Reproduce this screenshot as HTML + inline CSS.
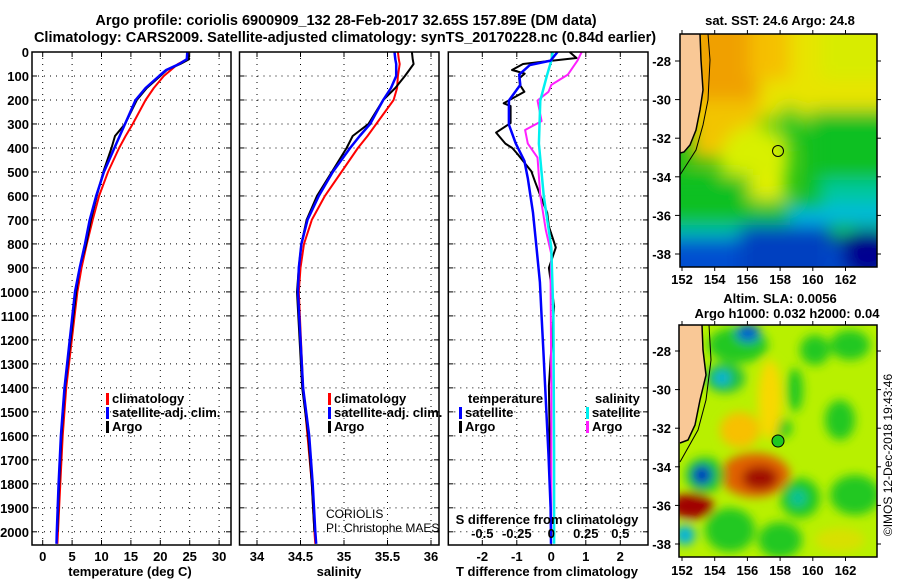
<!DOCTYPE html>
<html><head><meta charset="utf-8">
<style>
html,body{margin:0;padding:0;background:#fff;}
body{width:900px;height:580px;overflow:hidden;font-family:"Liberation Sans",sans-serif;}
svg text{font-family:"Liberation Sans",sans-serif;font-weight:bold;}
</style></head>
<body>
<svg id="chart" width="900" height="580" viewBox="0 0 900 580" xmlns="http://www.w3.org/2000/svg">
<defs>
<filter id="blur" filterUnits="userSpaceOnUse" x="600" y="0" width="300" height="300"><feGaussianBlur stdDeviation="9"/></filter>
<filter id="blur2" filterUnits="userSpaceOnUse" x="600" y="300" width="300" height="280"><feGaussianBlur stdDeviation="5"/></filter>
<clipPath id="clipMap1"><rect x="680" y="34" width="197" height="233"/></clipPath>
<clipPath id="clipMap2"><rect x="679" y="325" width="198" height="232"/></clipPath>
</defs>
<text x="346" y="25" font-size="14.5" text-anchor="middle">Argo profile: coriolis 6900909_132 28-Feb-2017 32.65S 157.89E (DM data)</text>
<text x="345" y="42" font-size="14.5" text-anchor="middle">Climatology: CARS2009. Satellite-adjusted climatology: synTS_20170228.nc (0.84d earlier)</text>

<g id="map1">
<text x="780" y="25" font-size="13" text-anchor="middle">sat. SST: 24.6 Argo: 24.8</text>
<g clip-path="url(#clipMap1)">
<rect x="680" y="34" width="197" height="233" fill="#18c018"/>
<g filter="url(#blur)">
<rect x="640" y="0" width="260" height="120" fill="#e8e400"/>
<rect x="690" y="0" width="70" height="110" fill="#f0a000"/>
<rect x="750" y="20" width="40" height="60" fill="#f5c000"/>
<rect x="820" y="20" width="80" height="60" fill="#d8ec00"/>
<rect x="690" y="100" width="70" height="60" fill="#f2c400"/>
<ellipse cx="755" cy="160" rx="35" ry="35" fill="#d8f000"/>
<ellipse cx="758" cy="190" rx="30" ry="15" fill="#e4f000"/>
<ellipse cx="790" cy="125" rx="12" ry="20" fill="#20c820"/>
<rect x="810" y="110" width="90" height="80" fill="#10c020"/>
<rect x="640" y="175" width="110" height="65" fill="#10c020"/>
<rect x="750" y="200" width="60" height="30" fill="#10c030"/>
<rect x="820" y="180" width="80" height="25" fill="#00c8a0"/>
<rect x="790" y="205" width="110" height="22" fill="#00b8e0"/>
<rect x="640" y="225" width="100" height="25" fill="#00c0b0"/>
<rect x="640" y="238" width="260" height="60" fill="#0050d0"/>
<rect x="740" y="225" width="90" height="60" fill="#0040c0"/>
<ellipse cx="868" cy="255" rx="28" ry="25" fill="#000090"/>
</g>
<path d="M680,34 L700,34 L701,60 L703,90 L700,110 L696,130 L690,145 L684,152 L680,153 Z" fill="#f9c896"/>
<path d="M708,34 L710,60 L708,100 L703,125 L696,150 L680,175" fill="none" stroke="#000" stroke-width="1"/>
<path d="M700,34 L701,60 L703,90 L700,110 L696,130 L690,145 L684,152 L680,153" fill="none" stroke="#000" stroke-width="1.5"/>
</g>
<rect x="680" y="34" width="197" height="233" fill="none" stroke="#000" stroke-width="1.5"/>
<circle cx="778" cy="151" r="5.5" fill="none" stroke="#000" stroke-width="1"/>
<g id="map1ticks"></g>
</g>

<g id="map2">
<text x="780" y="303" font-size="13" text-anchor="middle">Altim. SLA: 0.0056</text>
<text x="787" y="318" font-size="13" text-anchor="middle">Argo h1000: 0.032 h2000: 0.04</text>
<g clip-path="url(#clipMap2)">
<rect x="679" y="325" width="198" height="232" fill="#b8f000"/>
<g filter="url(#blur2)">
<ellipse cx="738" cy="345" rx="30" ry="18" fill="#20c820"/>
<ellipse cx="748" cy="333" rx="12" ry="9" fill="#0060d0"/>
<ellipse cx="725" cy="378" rx="20" ry="15" fill="#20c040"/>
<ellipse cx="722" cy="378" rx="8" ry="7" fill="#00b0e0"/>
<ellipse cx="815" cy="350" rx="15" ry="15" fill="#20c820"/>
<ellipse cx="850" cy="345" rx="20" ry="15" fill="#20c820"/>
<ellipse cx="795" cy="390" rx="8" ry="22" fill="#20c820"/>
<ellipse cx="780" cy="428" rx="12" ry="10" fill="#20c820"/>
<ellipse cx="840" cy="420" rx="15" ry="20" fill="#20c820"/>
<ellipse cx="740" cy="430" rx="20" ry="18" fill="#f8c000"/>
<ellipse cx="770" cy="400" rx="12" ry="40" fill="#f8d800"/>
<ellipse cx="755" cy="475" rx="35" ry="22" fill="#e06000"/>
<ellipse cx="760" cy="478" rx="18" ry="12" fill="#a01000"/>
<ellipse cx="705" cy="475" rx="20" ry="18" fill="#20c820"/>
<ellipse cx="702" cy="475" rx="10" ry="10" fill="#0030c0"/>
<ellipse cx="692" cy="506" rx="22" ry="13" fill="#a00000"/>
<ellipse cx="800" cy="498" rx="20" ry="20" fill="#20c820"/>
<ellipse cx="798" cy="498" rx="8" ry="8" fill="#00c0a0"/>
<ellipse cx="855" cy="495" rx="25" ry="20" fill="#20c820"/>
<ellipse cx="730" cy="530" rx="25" ry="22" fill="#20c820"/>
<ellipse cx="780" cy="540" rx="22" ry="18" fill="#20c820"/>
<ellipse cx="685" cy="535" rx="10" ry="10" fill="#00b0e0"/>
<ellipse cx="840" cy="540" rx="25" ry="12" fill="#d8e000"/>
</g>
<path d="M679,325 L702,325 L703,350 L706,375 L700,400 L695,425 L688,440 L680,443 L679,443 Z" fill="#f9c896"/>
<path d="M709,325 L711,360 L706,400 L698,430 L680,462" fill="none" stroke="#000" stroke-width="1"/>
<path d="M702,325 L703,350 L706,375 L700,400 L695,425 L688,440 L680,443" fill="none" stroke="#000" stroke-width="1.5"/>
</g>
<rect x="679" y="325" width="198" height="232" fill="none" stroke="#000" stroke-width="1.5"/>
<circle cx="778" cy="441" r="6" fill="#20c820" stroke="#000" stroke-width="1"/>
<g id="map2ticks"></g>
</g>
<text x="0" y="0" font-size="12" style="font-weight:normal" text-anchor="middle" transform="translate(892,455) rotate(-90)">©IMOS 12-Dec-2018 19:43:46</text>
<g id="plots"></g>
</svg>
<script>
// ===== Data =====
const depthTicks = [0,100,200,300,400,500,600,700,800,900,1000,1100,1200,1300,1400,1500,1600,1700,1800,1900,2000];
const tempTicks = [0,5,10,15,20,25,30];
const salTicks = [34,34.5,35,35.5,36];
const salTickLabels = ["34","34.5","35","35.5","36"];
const dTTicks = [-2,-1,0,1,2];
const dSTicks = [-0.5,-0.25,0,0.25,0.5];
const dSTickLabels = ["-0.5","-0.25","0","0.25","0.5"];
const lonTicks = [152,154,156,158,160,162];
const latTicks = [-28,-30,-32,-34,-36,-38];

const profDepths = [0,30,50,75,100,150,200,300,350,400,500,600,700,800,900,1000,1400,1600,1800,2000,2050];
const tempArgo = [24.7,24.9,23.4,21.1,20,17.7,16,14,12.3,11.7,10.3,9.2,8.2,7.4,6.3,5.7,3.8,3.2,2.8,2.5];
const tempClim = [24.8,24.6,23,21.8,20.6,18.9,17.5,15.3,14.1,13,11.1,9.6,8.5,7.5,6.6,5.9,4.0,3.4,3.0,2.6,2.5];
const tempSat  = [24.6,24.5,23.2,21,19.8,17.5,15.8,14,13.1,12.2,10.4,9.1,8,7.2,6.3,5.5,3.7,3.1,2.7,2.4,2.35];
const salArgo = [35.78,35.79,35.8,35.75,35.7,35.59,35.45,35.28,35.1,35.03,34.86,34.69,34.57,34.51,34.48,34.46,34.52,34.59,34.63,34.66];
const salClim = [35.62,35.63,35.64,35.63,35.62,35.61,35.57,35.37,35.27,35.16,34.97,34.78,34.63,34.54,34.5,34.48,34.53,34.58,34.63,34.66,34.67];
const salSat  = [35.58,35.59,35.6,35.6,35.6,35.54,35.45,35.3,35.18,35.07,34.87,34.71,34.58,34.51,34.48,34.47,34.53,34.6,34.64,34.67,34.68];

const dTArgoDepth = [0,25,40,50,75,90,110,137,166,214,225,296,336,382,400,425,497,541,598,670,728,815,900,1060,1391,1900,2000];
const dTArgo = [0.53,0.73,-0.22,-0.82,-1.14,-0.77,-0.93,-0.91,-0.78,-1.38,-1.18,-1.18,-1.6,-1.33,-1.13,-0.98,-0.58,-0.47,-0.32,-0.12,-0.07,0.13,-0.07,0.08,-0.07,-0.02,0];
const dTSatDepth = [0,36,54,94,137,202,303,382,454,526,670,815,959,1103,1247,1391,1680,1900,2050];
const dTSat = [0.18,-0.02,-0.62,-0.93,-0.9,-1.23,-1.23,-1.03,-0.78,-0.68,-0.53,-0.43,-0.33,-0.28,-0.23,-0.18,-0.08,-0.02,-0.01];
const dSArgoDepth = [0,36,94,137,166,202,288,325,382,440,598,742,843,959,1391,2000];
const dSArgo = [0.22,0.19,0.12,0,-0.02,-0.1,-0.07,-0.19,-0.17,-0.1,-0.08,-0.04,0,-0.005,0,0];
const dSSatDepth = [0,36,94,202,382,598,815,1103,1680,2050];
const dSSat = [0.01,0,-0.03,-0.08,-0.09,-0.055,0,0.015,0.02,0.02];

// ===== Scales =====
const Y0=52, Y1=545, DMAX=2055;
function yD(d){return Y0+(Y1-Y0)*d/DMAX;}
function xT(t){return 42.7+t*5.88;}
function xS(s){return 257+(s-34)*87;}
function xDT(v){return 551.3+v*34.5;}
function xDS(v){return 551.3+v*138;}
function mapLon(l){return 682+(l-152)*16.35;}
function map1Lat(l){return 61+(-28-l)*19.3;}
function map2Lat(l){return 351+(-28-l)*19.3;}

const NS="http://www.w3.org/2000/svg";
const root=document.getElementById('plots');
function el(tag,attrs,parent){const e=document.createElementNS(NS,tag);for(const k in attrs)e.setAttribute(k,attrs[k]);(parent||root).appendChild(e);return e;}
function txt(s,x,y,anchor,size,parent){const t=el('text',{x:x,y:y,'text-anchor':anchor,'font-size':size},parent);t.textContent=s;return t;}

const panels=[{x0:32,x1:231,name:'temperature-panel'},{x0:239.5,x1:439,name:'salinity-panel'},{x0:448.3,x1:648,name:'difference-panel'}];
panels.forEach(p=>{
  const g=el('g',{});
  
  
  p.g=g;
  depthTicks.forEach(d=>{
    const l=el('line',{x1:p.x0,x2:p.x1,y1:yD(d),y2:yD(d),stroke:'#000','stroke-width':1,'stroke-dasharray':'1,5'},g);
    
    
    el('line',{x1:p.x0,x2:p.x0+5,y1:yD(d),y2:yD(d),stroke:'#000'},g);
    el('line',{x1:p.x1-5,x2:p.x1,y1:yD(d),y2:yD(d),stroke:'#000'},g);
  });
});
depthTicks.forEach(d=>{
  const t=txt(String(d),29,yD(d)+5,'end',13);
  
  
});
function vgrid(p,xs){xs.forEach(x=>{
  const l=el('line',{x1:x,x2:x,y1:Y0,y2:Y1,stroke:'#000','stroke-width':1,'stroke-dasharray':'1,5'},p.g);
  
  
  el('line',{x1:x,x2:x,y1:Y0,y2:Y0+5,stroke:'#000'},p.g);
  el('line',{x1:x,x2:x,y1:Y1-5,y2:Y1,stroke:'#000'},p.g);
});}
vgrid(panels[0],tempTicks.map(xT));
vgrid(panels[1],salTicks.map(xS));
vgrid(panels[2],dTTicks.map(xDT));
tempTicks.forEach(t=>{const e=txt(String(t),xT(t),561,'middle',13);});
salTicks.forEach((s,i)=>{const e=txt(salTickLabels[i],xS(s),561,'middle',13);});
dTTicks.forEach(t=>{const e=txt(String(t),xDT(t),561,'middle',13);});
dSTicks.forEach((s,i)=>{const e=txt(dSTickLabels[i],xDS(s),538,'middle',13);});
let e;
e=txt('temperature (deg C)',130,576,'middle',13);
e=txt('salinity',339,576,'middle',13);
e=txt('T difference from climatology',547,576,'middle',13);
e=txt('S difference from climatology',547,524,'middle',13);

function line(p,depths,vals,xf,color,w,name){
  const pts=vals.map((v,i)=>xf(v).toFixed(1)+','+yD(depths[i]).toFixed(1)).join(' ');
  const pl=el('polyline',{points:pts,fill:'none',stroke:color,'stroke-width':w,'stroke-linejoin':'round'},p.g);
  
  
}
line(panels[0],profDepths,tempClim,xT,'#ff0000',2,'temperature-climatology-line');
line(panels[0],profDepths,tempArgo,xT,'#000',2,'temperature-argo-line');
line(panels[0],profDepths,tempSat,xT,'#0000ff',2.5,'temperature-satellite-line');
line(panels[1],profDepths,salClim,xS,'#ff0000',2,'salinity-climatology-line');
line(panels[1],profDepths,salArgo,xS,'#000',2,'salinity-argo-line');
line(panels[1],profDepths,salSat,xS,'#0000ff',2.5,'salinity-satellite-line');
line(panels[2],dTArgoDepth,dTArgo,xDT,'#000',2,'t-difference-argo-line');
line(panels[2],dSArgoDepth,dSArgo,xDS,'#ff20ff',2,'s-difference-argo-line');
line(panels[2],dSSatDepth,dSSat,xDS,'#00f0f0',2.5,'s-difference-satellite-line');
line(panels[2],dTSatDepth,dTSat,xDT,'#0000ff',2.5,'t-difference-satellite-line');

panels.forEach(p=>{el('rect',{x:p.x0,y:Y0,width:p.x1-p.x0,height:Y1-Y0,fill:'none',stroke:'#000','stroke-width':1.5},p.g);});

function legend(p,x,y,items){
  items.forEach((it,i)=>{
    const yy=y+i*14;
    const g=el('g',{},p.g);
    
    
    el('rect',{x:x,y:yy-10,width:3,height:12,fill:it[0]},g);
    txt(it[1],x+6,yy,'start',13,g);
  });
}
legend(panels[0],106,403,[['#ff0000','climatology'],['#0000ff','satellite-adj. clim.'],['#000','Argo']]);
legend(panels[1],328,403,[['#ff0000','climatology'],['#0000ff','satellite-adj. clim.'],['#000','Argo']]);
e=txt('temperature',468,403,'start',13,panels[2].g);
e=txt('salinity',595,403,'start',13,panels[2].g);
legend(panels[2],459,417,[['#0000ff','satellite'],['#000','Argo']]);
legend(panels[2],586,417,[['#00f0f0','satellite'],['#ff20ff','Argo']]);
e=txt('CORIOLIS',326,518,'start',12,panels[1].g);e.style.fontWeight='normal';
e=txt('PI: Christophe MAES',326,532,'start',12,panels[1].g);e.style.fontWeight='normal';

function mapTicks(gid,latf,top,bottom,lonY){
  const g=document.getElementById(gid);
  lonTicks.forEach(l=>{
    const x=mapLon(l);
    el('line',{x1:x,x2:x,y1:top,y2:top-4,stroke:'#000'},g);
    el('line',{x1:x,x2:x,y1:bottom,y2:bottom+4,stroke:'#000'},g);
    const t=txt(String(l),x,lonY,'middle',13,g);
    
    
  });
  latTicks.forEach(l=>{
    const y=latf(l);
    el('line',{x1:675,x2:680,y1:y,y2:y,stroke:'#000'},g);
    el('line',{x1:877,x2:881,y1:y,y2:y,stroke:'#000'},g);
    const t=txt(String(l),671,y+5,'end',13,g);
    
    
  });
}
mapTicks('map1ticks',map1Lat,34,267,284);
mapTicks('map2ticks',map2Lat,325,557,575);
</script>
</body></html>
